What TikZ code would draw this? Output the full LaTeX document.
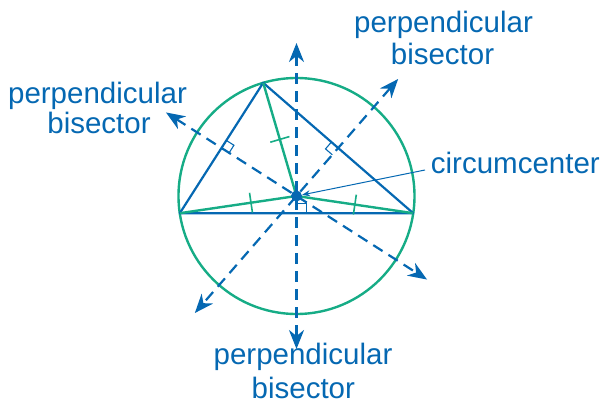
\documentclass[tikz,border=0pt]{standalone}
\usepackage{fontspec}
\setmainfont{Liberation Sans}
\usetikzlibrary{calc,arrows.meta}
\definecolor{dblue}{RGB}{5,104,178}
\definecolor{dgreen}{RGB}{22,172,134}
\begin{document}
\begin{tikzpicture}[x=1pt,y=1pt,
  lbl/.style={text=dblue,inner sep=0pt,font=\fontsize{29.5pt}{33pt}\selectfont},
  side/.style={draw=dblue,line width=2.2pt,line join=round},
  rad/.style={draw=dgreen,line width=2.4pt},
  tick/.style={draw=dgreen,line width=1.6pt},
  bis/.style={draw=dblue,line width=2.2pt,dash pattern=on 11pt off 7pt,
    {Stealth[length=19pt,width=15pt,inset=6pt]}-{Stealth[length=19pt,width=15pt,inset=6pt]}},
  rmark/.style={draw=dblue,line width=1.1pt},
]
\useasboundingbox (0,0) rectangle (605,404);
\coordinate (O) at (296.5,208);
\coordinate (A) at (263.2,321.2);
\coordinate (B) at (179.8,190.8);
\coordinate (C) at (413.2,190.8);
\coordinate (mAB) at ($(A)!0.5!(B)$);
\coordinate (mAC) at ($(A)!0.5!(C)$);
\coordinate (mBC) at ($(B)!0.5!(C)$);
% circumcircle
\draw[dgreen,line width=2.4pt] (O) circle (118);
% triangle
\draw[side] (A) -- (B) -- (C) -- cycle;
% radii
\draw[rad] (O) -- (A);
\draw[rad] (O) -- (B);
\draw[rad] (O) -- (C);
% ticks on radii
\coordinate (tA) at ($(O)!0.5!(A)$);
\coordinate (tB) at ($(B)!0.61!(O)$);
\coordinate (tC) at ($(O)!0.5!(C)$);
\draw[tick] ($(tA)!10pt!90:(A)$) -- ($(tA)!10pt!-90:(A)$);
\draw[tick] ($(tB)!10pt!90:(O)$) -- ($(tB)!10pt!-90:(O)$);
\draw[tick] ($(tC)!10pt!90:(C)$) -- ($(tC)!10pt!-90:(C)$);
% perpendicular bisectors
\coordinate (nw) at ($(O)!155pt!(mAB)$);
\coordinate (se) at ($(O)!-155pt!(mAB)$);
\coordinate (ne) at ($(O)!155pt!(mAC)$);
\coordinate (sw) at ($(O)!-155pt!(mAC)$);
\coordinate (s) at ($(O)!153pt!(mBC)$);
\coordinate (n) at ($(O)!-153pt!(mBC)$);
\draw[bis] (nw) -- (se);
\draw[bis] (ne) -- (sw);
\draw[bis] (n) -- (s);
% right-angle marks
\coordinate (p1) at ($(mAB)!9pt!(A)$);
\coordinate (p2) at ($(mAB)!9pt!(O)$);
\draw[rmark] (p1) -- ($(p1)+(p2)-(mAB)$) -- (p2);
\coordinate (q1) at ($(mAC)!9pt!(A)$);
\coordinate (q2) at ($(mAC)!9pt!(O)$);
\draw[rmark] (q1) -- ($(q1)+(q2)-(mAC)$) -- (q2);
\coordinate (r1) at ($(mBC)!10pt!(C)$);
\coordinate (r2) at ($(mBC)!10pt!(O)$);
\draw[rmark] (r1) -- ($(r1)+(r2)-(mBC)$) -- (r2);
% circumcenter dot
\node[circle,fill=dblue,inner sep=0pt,minimum size=11pt] (dot) at (O) {};
% labels
\node[lbl,anchor=base] (trp) at (443.5,371) {perpendicular};
\node[lbl,anchor=base] (trb) at (442.5,339) {bisector};
\node[lbl,anchor=base] (lp) at (97.5,300) {perpendicular};
\node[lbl,anchor=base] (lb) at (99,270.5) {bisector};
\node[lbl,anchor=base] (bp) at (303,39.5) {perpendicular};
\node[lbl,anchor=base] (bb) at (303.3,5) {bisector};
\node[lbl,anchor=base west] (cc) at (430.7,230.7) {circumcenter};
\coordinate (lead) at (425,234);
\draw[dblue,line width=1pt,-{Stealth[length=8pt,width=6pt]}] (lead) -- (dot);
\end{tikzpicture}
\end{document}
